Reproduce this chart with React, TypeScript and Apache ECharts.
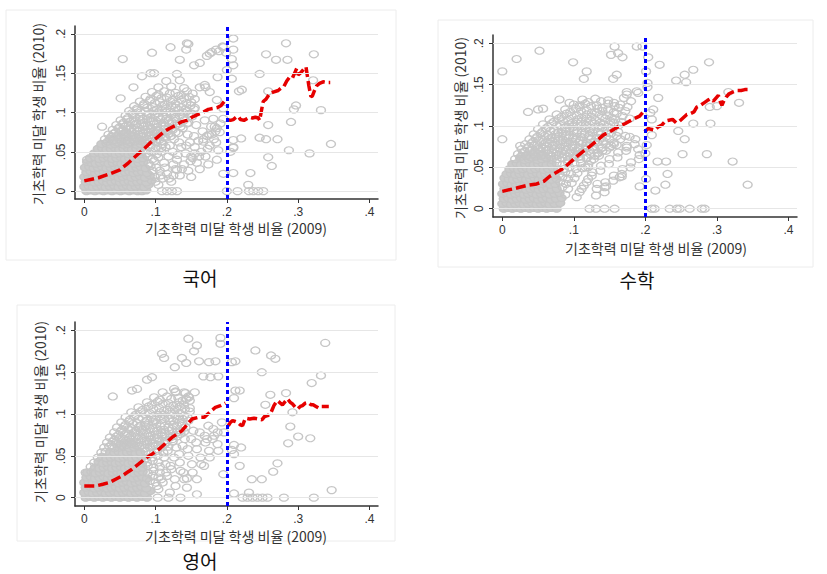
import React, { useEffect, useRef } from "react";
import * as echarts from "echarts";

// ---------- texts & ticks ----------
const subjects = ["국어", "수학", "영어"];
const xTitle = "기초학력 미달 학생 비율 (2009)";
const yTitle = "기초학력 미달 학생 비율 (2010)";
const xTicks = [0, 0.1, 0.2, 0.3, 0.4];
const yTicks = [0, 0.05, 0.1, 0.15, 0.2];
const cutoff = 0.2;

// ---------- data (per-mille: [share 2009, share 2010]) ----------
// dense, overlapping schools (drawn as a solid grey mass)
const koreanCore = [
  [3,0],[9,1],[15,0],[21,1],[27,0],[33,1],[39,0],[45,1],[51,0],[57,1],[63,0],[69,1],[75,0],[81,0],[87,1],
  [0,6],[6,7],[12,5],[18,6],[24,7],[30,5],[36,6],[42,7],[48,5],[54,6],[60,7],[66,5],[72,6],[78,7],[84,5],[90,8],
  [2,12],[8,13],[14,11],[20,12],[26,13],[32,11],[38,12],[44,13],[50,11],[56,12],[62,13],[68,11],[74,12],[80,13],[87,11],[94,14],
  [0,18],[6,19],[12,17],[18,18],[24,19],[30,17],[36,18],[42,19],[48,17],[54,18],[60,19],[66,17],[72,18],[78,19],[85,17],[92,20],
  [3,24],[9,25],[15,23],[21,24],[27,25],[33,23],[39,24],[45,25],[51,23],[57,24],[63,25],[69,23],[75,24],[81,25],[88,23],
  [1,30],[7,31],[13,29],[19,30],[25,31],[31,29],[37,30],[43,31],[49,29],[55,30],[61,31],[67,29],[73,30],[79,31],[86,29],
  [4,37],[10,36],[16,35],[22,36],[28,37],[34,35],[40,36],[46,37],[52,35],[58,36],[64,37],[70,35],[76,36],[83,37],
  [8,42],[15,43],[21,41],[27,42],[33,43],[39,41],[45,42],[51,43],[57,41],[63,42],[69,43],[75,41],[82,42],
  [14,48],[20,49],[26,47],[32,48],[38,49],[44,47],[50,48],[56,49],[62,47],[68,48],[74,49],[80,47],
  [19,54],[25,55],[31,53],[37,54],[43,55],[49,53],[55,54],[61,55],[67,53],[73,54],[79,55],
  [24,60],[31,61],[37,59],[43,60],[49,61],[55,59],[61,60],[67,61],[73,59],[79,60],
  [36,67],[42,65],[49,66],[55,67],[61,65],[68,66],[74,67],
  [48,71],[55,72],[62,73],[69,71]
];
// individually visible schools
const koreanSpread = [
  [99,18],[96,26],[93,32],[101,30],[90,35],[98,38],[89,44],[96,41],[104,43],[87,48],[94,50],[102,47],
  [86,53],[93,56],[100,54],[108,55],[86,61],[93,59],[101,62],[110,60],
  [29,66],[81,65],[88,66],[96,67],[105,65],[114,68],
  [34,72],[41,73],[76,72],[83,73],[91,71],[99,74],[108,72],[118,73],
  [40,78],[48,79],[55,77],[63,78],[70,79],[78,77],[86,78],[94,79],[103,77],[113,79],[124,78],
  [45,84],[54,85],[62,83],[71,84],[80,85],[89,83],[98,85],[108,84],[119,86],[130,84],
  [51,90],[60,91],[69,89],[78,90],[88,91],[97,89],[107,91],[118,90],[128,92],[140,90],
  [58,96],[68,97],[78,95],[88,96],[99,97],[110,95],[122,97],[134,96],[146,98],
  [63,102],[74,103],[86,101],[97,102],[109,103],[121,101],[133,103],[144,102],[154,104],
  [70,108],[83,109],[96,107],[109,108],[122,109],[136,107],[149,109],
  [78,114],[92,115],[106,113],[121,114],[136,116],[150,113],
  [86,120],[101,121],[116,119],[132,121],[147,120],
  [95,126],[112,127],[128,125],[144,127],
  [104,132],[122,133],[140,131],[115,140],[134,141],
  [104,8],[110,16],[116,22],[122,12],[128,28],[134,20],[140,34],[146,26],[152,42],[158,36],[164,50],[170,44],
  [176,58],[182,66],[188,52],[112,36],[118,44],[124,50],[130,40],[136,56],[142,48],[148,62],[154,70],[160,64],
  [166,76],[172,70],[178,82],[184,76],[120,58],[126,66],[132,74],[138,80],[144,86],[106,26],[150,18],[162,28],
  [174,34],[186,40],
  [209,194],[209,180],[207,168],[209,160],[207,143],[200,154],[199,176],[194,184],[283,188],[255,174],[269,167],
  [285,167],[322,174],[246,149],[221,129],[217,127],[258,127],[321,141],[297,109],[294,104],[332,103],[290,88],
  [258,84],[220,67],[209,65],[246,68],[255,66],[271,66],[287,52],[316,48],[346,60],[209,56],[205,50],[258,43],
  [263,32],[233,23],[209,23],[230,8],[200,0],[215,0],[231,0],[237,0],[244,0],[251,0],[190,75],[186,80],[209,55],
  [54,168],[95,176],[146,187],[143,180],[121,183],[134,167],[81,146],[98,150],[93,150],[69,132],[51,118],[25,82],
  [4,40],[179,177],[185,180],[195,183],[172,172],[162,163],[154,160],[130,149],[169,135],[176,126],[186,116],
  [195,105],[183,82],[195,92],[175,72],[167,63],[155,48],[150,44],[130,27],[125,20],[109,0],[116,0],[123,0],
  [130,0],[195,22],[144,188],[176,175],[189,178],[187,145],[162,132],[170,132]
];
const koreanMid = [
  [33,63],[40,64],[46,62],[52,63],[58,64],[64,62],[71,63],[78,64],[85,62],[92,63],[100,64],[108,63],
  [38,69],[45,70],[52,68],[59,69],[66,70],[73,68],[80,69],[87,70],[95,68],[103,70],[112,69],[122,70],
  [44,75],[52,76],[59,74],[67,75],[74,76],[82,74],[90,75],[98,76],[107,74],[117,76],[128,75],
  [49,81],[58,82],[66,80],[75,81],[84,82],[93,80],[102,81],[112,82],[123,80],[135,82],
  [55,87],[64,88],[73,86],[83,87],[93,88],[102,86],[112,87],[123,88],[134,86],[146,87],
  [61,93],[72,94],[82,92],[93,93],[104,94],[115,92],[127,94],[139,93],[151,95],
  [67,99],[79,100],[91,98],[103,99],[115,100],[127,98],[139,100],[150,99],
  [74,105],[88,106],[102,104],[115,105],[128,106],[142,104],[155,106],
  [84,111],[99,112],[113,110],[128,111],[143,112],
  [93,117],[108,118],[124,116],[140,118],[155,117],
  [104,123],[120,124],[136,122],[152,124],
  [100,12],[107,20],[113,30],[119,16],[125,34],[131,46],[137,28],[143,58],[149,38],[155,56],[161,44],[167,66],
  [173,54],[179,72],[185,62],[191,86],[108,50],[114,56],[121,70],[133,62],[145,72],[157,84],[169,90],[181,92]
];
const koreanFitBelow = [
  [0,13],[20,17],[36,22],[50,27],[62,36],[74,46],[84,54],[92,61],[102,68],[111,75],[120,80],[127,83],[136,88],
  [144,90],[151,94],[158,97],[166,100],[174,104],[180,105],[186,106],[192,109],[198,116]
];
const koreanFitAbove = [
  [200,91],[205,90],[209,91],[213,94],[216,95],[219,91],[224,90],[228,92],[232,94],[236,93],[240,94],[244,93],
  [246,90],[248,100],[251,114],[255,117],[260,124],[265,126],[272,128],[276,131],[280,133],[284,140],[288,145],
  [292,144],[296,152],[298,156],[300,148],[303,150],[307,154],[311,158],[313,146],[315,134],[318,120],[320,121],
  [323,128],[326,134],[330,137],[335,139],[340,138],[345,138]
];

const mathCore = [
  [2,0],[8,1],[14,0],[20,1],[26,0],[32,1],[38,0],[44,1],[50,0],[56,1],[62,0],[68,1],[76,0],
  [0,6],[6,7],[12,5],[18,6],[24,7],[30,5],[36,6],[42,7],[48,5],[54,6],[60,7],[66,5],[73,6],[81,7],
  [2,12],[8,13],[14,11],[20,12],[26,13],[32,11],[38,12],[44,13],[50,11],[56,12],[62,13],[68,11],[75,12],[83,13],
  [0,18],[6,19],[12,17],[18,18],[24,19],[30,17],[36,18],[42,19],[48,17],[54,18],[60,19],[66,17],[73,18],[80,19],
  [3,24],[9,25],[15,23],[21,24],[27,25],[33,23],[39,24],[45,25],[51,23],[57,24],[63,25],[69,23],[76,24],
  [1,30],[7,31],[13,29],[19,30],[25,31],[31,29],[37,30],[43,31],[49,29],[55,30],[61,31],[67,29],[74,30],
  [3,37],[9,36],[15,35],[21,36],[27,37],[33,35],[39,36],[45,37],[51,35],[57,36],[63,37],[69,35],[76,36],
  [6,42],[12,43],[18,41],[24,42],[30,43],[36,41],[42,42],[48,43],[54,41],[60,42],[66,43],[73,41],
  [10,48],[16,49],[22,47],[28,48],[34,49],[40,47],[46,48],[52,49],[58,47],[64,48],[71,49],
  [14,54],[20,55],[26,53],[32,54],[38,55],[44,53],[50,54],[56,55],[62,53],[69,54],
  [25,61],[31,59],[37,60],[43,61],[49,59],[55,60],[62,61],
  [36,65],[43,66],[50,67],[57,65]
];
const mathSpread = [
  [88,17],[84,26],[92,24],[81,32],[89,30],[97,31],[84,38],[92,36],[101,37],[80,42],[88,44],[96,42],[105,43],
  [78,47],[86,48],[94,50],[103,48],[112,49],[76,55],[84,53],[92,56],[101,54],[110,55],[120,53],
  [18,60],[69,59],[76,60],[84,61],[92,59],[100,62],[109,60],[118,61],[128,60],
  [22,66],[29,67],[64,66],[71,67],[79,65],[87,66],[95,67],[104,65],[113,68],[123,66],[134,67],
  [27,72],[35,73],[42,71],[50,72],[57,73],[65,71],[73,72],[81,73],[89,71],[98,74],[107,72],[117,73],[127,71],[138,73],
  [32,78],[41,79],[49,77],[58,78],[66,79],[75,77],[84,78],[93,79],[102,77],[112,79],[122,78],[133,80],[145,78],
  [38,84],[47,85],[56,83],[65,84],[74,85],[84,83],[93,85],[103,84],[113,86],[124,84],[136,85],[150,84],
  [44,90],[54,91],[64,89],[74,90],[84,91],[94,89],[104,91],[115,90],[126,92],[138,90],[152,91],
  [50,96],[61,97],[72,95],[83,96],[94,97],[105,95],[116,97],[128,96],[140,98],[154,96],
  [57,102],[69,103],[81,101],[93,102],[105,103],[117,101],[129,103],[142,102],[156,104],
  [66,108],[79,109],[92,107],[105,108],[118,109],[131,107],[144,109],[158,108],
  [76,114],[90,115],[104,113],[118,114],[132,116],[146,113],[160,115],
  [88,120],[103,121],[118,119],[133,121],[148,120],[163,122],
  [100,126],[116,127],[132,125],[148,127],[165,126],[112,132],[130,133],[148,131],[170,134],
  [108,20],[114,28],[120,36],[126,44],[132,24],[138,52],[144,32],[150,60],[156,40],[162,68],[168,48],[174,76],
  [180,56],[186,84],[116,50],[124,58],[140,70],[156,78],[172,88],[190,72],
  [204,183],[220,174],[201,166],[203,152],[203,147],[243,155],[255,162],[257,153],[267,168],[289,177],[218,134],
  [211,120],[207,116],[209,108],[316,141],[331,128],[300,124],[290,123],[267,103],[291,103],[246,94],[209,89],
  [255,84],[202,77],[200,67],[252,66],[286,66],[217,57],[229,57],[322,57],[231,42],[201,36],[228,29],[214,22],
  [343,29],[209,0],[213,0],[234,0],[244,0],[248,0],[262,0],[279,0],[283,0],
  [0,166],[20,181],[52,191],[99,177],[118,166],[114,157],[157,196],[152,186],[168,183],[188,196],[160,162],
  [155,157],[174,141],[188,142],[0,84],[25,76],[36,117],[50,120],[57,121],[80,132],[94,128],[108,125],[167,39],
  [143,20],[122,0],[131,0],[143,0],[157,0],[192,27],[192,65],[174,74],[160,77],[133,30],[164,38],[145,27],
  [178,87],[178,109],[190,140],[174,138],[196,196],[162,188]
];
const mathMid = [
  [26,63],[33,64],[40,62],[47,63],[54,64],[61,62],[68,63],[75,64],[83,62],[91,63],[99,64],[108,63],[118,62],[129,64],
  [31,69],[39,70],[46,68],[54,69],[61,70],[69,68],[77,69],[85,70],[94,68],[103,70],[112,69],[122,70],[133,68],[145,70],
  [37,75],[45,76],[54,74],[62,75],[71,76],[80,74],[89,75],[98,76],[107,74],[117,76],[128,75],[140,74],[152,76],
  [43,81],[52,82],[61,80],[70,81],[79,82],[89,80],[98,81],[108,82],[118,80],[129,81],[141,82],[156,80],
  [49,87],[59,88],[69,86],[79,87],[89,88],[99,86],[110,87],[121,88],[132,86],[145,87],[160,88],
  [56,93],[67,94],[78,92],[89,93],[100,94],[111,92],[122,94],[134,93],[147,95],[162,93],
  [64,99],[76,100],[88,98],[99,99],[111,100],[123,98],[135,100],[148,99],[163,101],
  [72,105],[85,106],[98,104],[111,105],[124,106],[137,104],[151,106],[166,105],
  [83,111],[97,112],[111,110],[125,111],[139,112],[153,110],[168,112],
  [95,117],[110,118],[125,116],[140,118],[156,117],[172,118],
  [108,123],[124,124],[140,122],[157,124],[175,123],
  [120,129],[138,130],[156,128],[180,130],
  [104,14],[111,24],[118,32],[125,40],[131,16],[137,46],[143,26],[149,54],[155,34],[161,62],[167,42],[173,70],
  [179,50],[185,78],[191,60],[120,50],[135,64],[150,74],[165,84]
];
const mathFitBelow = [
  [0,21],[20,25],[34,28],[48,30],[58,33],[66,39],[76,44],[86,49],[96,57],[104,63],[114,70],[122,75],[132,82],
  [141,89],[152,94],[162,99],[172,103],[182,108],[192,112],[197,117]
];
const mathFitAbove = [
  [199,93],[204,97],[208,96],[213,95],[218,99],[223,101],[228,106],[233,107],[238,108],[243,104],[248,106],
  [253,110],[258,114],[263,115],[268,117],[272,123],[277,125],[282,128],[287,131],[291,133],[295,130],[299,134],
  [302,137],[305,129],[307,125],[310,131],[313,135],[317,139],[322,141],[328,143],[334,143],[339,144],[344,144]
];

const englishCore = [
  [2,0],[8,1],[14,0],[20,1],[26,0],[32,1],[38,0],[44,1],[50,0],[56,1],[62,0],[68,1],[74,0],[81,1],[88,0],
  [0,6],[6,7],[12,5],[18,6],[24,7],[30,5],[36,6],[42,7],[48,5],[54,6],[60,7],[66,5],[72,6],[78,7],[85,5],[93,8],
  [2,12],[8,13],[14,11],[20,12],[26,13],[32,11],[38,12],[44,13],[50,11],[56,12],[62,13],[68,11],[74,12],[80,13],[87,11],
  [0,18],[6,19],[12,17],[18,18],[24,19],[30,17],[36,18],[42,19],[48,17],[54,18],[60,19],[66,17],[72,18],[78,19],[85,17],
  [3,24],[9,25],[15,23],[21,24],[27,25],[33,23],[39,24],[45,25],[51,23],[57,24],[63,25],[69,23],[75,24],[81,25],[88,23],
  [4,30],[10,31],[16,29],[22,30],[28,31],[34,29],[40,30],[46,31],[52,29],[58,30],[64,31],[70,29],[76,30],[82,31],
  [15,36],[21,35],[27,36],[33,37],[39,35],[45,36],[51,37],[57,35],[63,36],[69,37],[75,35],[82,36],
  [20,43],[26,41],[32,42],[38,43],[44,41],[50,42],[56,43],[62,41],[68,42],[74,43],[81,41],
  [25,49],[31,47],[37,48],[43,49],[49,47],[55,48],[61,49],[67,47],[73,48],[80,49],
  [36,53],[42,54],[48,55],[54,53],[60,54],[66,55],[72,53],[79,54],
  [49,60],[56,61],[63,59],[70,60],
  [56,66],[64,67]
];
const englishSpread = [
  [92,20],[100,18],[96,26],[104,24],[89,29],[97,32],[106,30],[9,37],[89,38],[97,36],[106,37],
  [14,42],[88,42],[96,44],[104,42],[19,48],[87,47],[95,48],[103,50],[112,48],
  [24,54],[30,55],[86,55],[94,53],[102,56],[111,54],
  [28,60],[35,61],[42,59],[77,61],[84,59],[92,60],[100,62],[109,60],[118,61],
  [32,66],[40,67],[48,65],[72,65],[80,66],[88,67],[96,65],[105,68],[114,66],[124,67],
  [36,72],[45,73],[54,71],[63,72],[72,73],[81,71],[90,73],[99,72],[109,74],[120,72],[130,73],
  [42,78],[51,79],[60,77],[70,78],[79,79],[88,77],[98,79],[108,78],[119,80],[130,78],[140,79],
  [46,84],[56,85],[66,83],[76,84],[86,85],[96,83],[107,85],[118,84],[130,86],[142,84],
  [52,90],[63,91],[74,89],[85,90],[96,91],[108,89],[120,91],[133,90],[146,92],
  [58,96],[70,97],[82,95],[94,96],[106,97],[119,95],[132,97],[145,96],
  [66,102],[79,103],[92,101],[106,102],[120,103],[134,101],[148,103],
  [76,108],[90,109],[105,107],[120,108],[134,109],[148,107],
  [88,114],[103,115],[118,113],[133,114],[148,116],
  [98,120],[116,121],[132,119],[146,121],[110,126],[128,127],[142,125],
  [104,10],[110,18],[116,26],[122,34],[128,14],[134,42],[140,22],[146,50],[152,30],[158,58],[164,40],[170,66],
  [176,48],[182,74],[188,56],[114,40],[126,48],[138,62],[150,70],[162,78],[174,86],[120,6],[144,12],
  [240,176],[262,170],[268,166],[338,185],[249,150],[332,146],[319,137],[207,162],[212,163],[212,128],[218,128],
  [210,119],[261,123],[283,125],[254,111],[292,102],[289,85],[300,73],[317,71],[286,65],[210,63],[207,57],
  [210,52],[220,60],[218,38],[271,41],[265,31],[235,22],[249,22],[347,9],[210,5],[231,6],[222,0],[229,0],
  [236,0],[243,0],[250,0],[257,0],[280,0],[322,0],
  [146,190],[158,182],[154,175],[191,191],[191,184],[109,172],[112,167],[137,167],[127,156],[143,161],[161,163],
  [175,162],[184,163],[177,144],[188,145],[167,145],[95,144],[88,141],[67,128],[74,130],[40,121],[126,130],
  [128,126],[140,126],[147,120],[143,118],[155,126],[187,78],[196,78],[172,70],[180,70],[168,38],[158,22],
  [158,4],[118,0],[103,0],[135,0],[2,30],[195,28],[135,32],[144,23]
];
const englishMid = [
  [38,63],[45,64],[52,62],[59,63],[66,64],[74,62],[81,63],[88,64],[96,62],[104,63],[113,64],
  [42,69],[50,70],[58,68],[67,69],[76,70],[85,68],[94,69],[103,70],[113,68],[124,70],
  [48,75],[57,76],[66,74],[75,75],[84,76],[93,74],[103,75],[113,76],[124,74],[135,76],
  [53,81],[62,82],[72,80],[82,81],[92,82],[102,80],[112,81],[123,82],[135,80],
  [58,87],[68,88],[79,86],[90,87],[101,88],[113,86],[125,87],[138,88],
  [64,93],[76,94],[88,92],[100,93],[112,94],[125,92],[138,94],
  [72,99],[85,100],[98,98],[112,99],[126,100],[140,98],
  [82,105],[97,106],[112,104],[127,105],[141,106],
  [95,111],[110,112],[125,110],[140,111],
  [106,117],[122,118],[138,116],
  [102,14],[108,22],[115,30],[121,38],[127,22],[133,52],[139,30],[145,58],[151,40],[157,66],[163,48],[169,74],
  [175,56],[181,82],[187,64],[193,90],[117,56],[129,60],[141,70],[153,80]
];
const englishFitBelow = [
  [0,14],[16,14],[26,16],[35,18],[44,22],[53,26],[60,30],[67,34],[76,40],[86,47],[95,52],[105,58],[114,65],
  [123,72],[130,76],[137,80],[144,87],[151,94],[160,96],[168,96],[176,102],[184,108],[191,110],[198,113]
];
const englishFitAbove = [
  [202,86],[205,90],[208,92],[212,91],[215,90],[219,87],[222,86],[226,95],[232,94],[238,95],[244,94],[249,93],
  [253,97],[257,98],[261,100],[264,106],[266,110],[269,114],[271,116],[275,113],[278,111],[282,115],[285,118],
  [289,114],[292,112],[296,108],[299,106],[303,109],[306,110],[310,113],[314,114],[318,111],[321,111],[325,109],
  [329,107],[333,109],[338,109],[343,109]
];

// ---------- layout ----------
const layout = [
  { grid: { left: 75, top: 26, width: 303, height: 173 }, xT: [236, 228], yT: [38, 114], sub: [200, 277], frame: [6, 10, 390, 250] },
  { grid: { left: 493, top: 35, width: 304, height: 182 }, xT: [656, 248], yT: [460, 128], sub: [637, 279], frame: [438, 20, 375, 247] },
  { grid: { left: 75, top: 322, width: 303, height: 184 }, xT: [236, 536], yT: [40, 412], sub: [200, 560], frame: [17, 305, 378, 236] },
];

const panelData = [
  { core: koreanCore, spread: [...koreanSpread, ...koreanMid], below: koreanFitBelow, above: koreanFitAbove },
  { core: mathCore, spread: [...mathSpread, ...mathMid], below: mathFitBelow, above: mathFitAbove },
  { core: englishCore, spread: [...englishSpread, ...englishMid], below: englishFitBelow, above: englishFitAbove },
];

const toShare = (arr: number[][]) => arr.map(([x, y]) => [x / 1000, y / 1000]);
const fmt = (v: number) => (v === 0 ? "0" : String(v).replace(/^0\./, "."));
const latin = 'Arial, "Liberation Sans", sans-serif';
const kor = '"Noto Sans CJK KR", "Noto Sans", sans-serif';
const grey = "#c6c6c6";

function buildOption() {
  const grid = layout.map((l) => ({ ...l.grid, containLabel: false }));
  const xAxis = layout.map((_, i) => ({
    type: "value", gridIndex: i, min: -0.013, max: 0.412,
    axisLine: { show: true, onZero: false, lineStyle: { color: "#333", width: 1.5 } },
    axisTick: { show: true, customValues: xTicks, length: 4, lineStyle: { color: "#333", width: 1 } },
    axisLabel: { customValues: xTicks, formatter: fmt, margin: 7, fontSize: 12, color: "#333", fontFamily: latin },
    splitLine: { show: false },
  }));
  const yAxis = layout.map((_, i) => ({
    type: "value", gridIndex: i, min: -0.01, max: 0.21,
    axisLine: { show: true, onZero: false, lineStyle: { color: "#333", width: 1.5 } },
    axisTick: { show: true, customValues: yTicks, length: 4, lineStyle: { color: "#333", width: 1 } },
    axisLabel: { customValues: yTicks, formatter: fmt, rotate: 90, margin: 8, fontSize: 12, color: "#333", fontFamily: latin },
    splitLine: { show: false },
  }));
  const series: any[] = [];
  panelData.forEach((p, i) => {
    series.push({
      type: "line", xAxisIndex: i, yAxisIndex: i, data: [], z: 1, silent: true,
      markLine: { silent: true, symbol: ["none", "none"], label: { show: false }, animation: false,
        lineStyle: { color: "#e6e6e6", width: 1, type: "solid" }, emphasis: { disabled: true },
        data: yTicks.map((v) => ({ yAxis: v })) },
    });
    series.push({
      type: "scatter", xAxisIndex: i, yAxisIndex: i, z: 2, silent: true,
      data: toShare(p.core), symbol: "circle", symbolSize: [9, 7],
      itemStyle: { color: "#cbcbcb", borderColor: grey, borderWidth: 1.3, opacity: 1 },
    });
    series.push({
      type: "scatter", xAxisIndex: i, yAxisIndex: i, z: 3, silent: true,
      data: toShare(p.spread), symbol: "circle", symbolSize: [9, 7],
      itemStyle: { color: "rgba(255,255,255,0)", borderColor: grey, borderWidth: 1.3, opacity: 1 },
    });
    series.push({
      type: "line", xAxisIndex: i, yAxisIndex: i, data: [], z: 5, silent: true,
      markLine: { silent: true, symbol: ["none", "none"], label: { show: false }, animation: false,
        lineStyle: { color: "#0000ff", width: 3, type: [4, 3] }, emphasis: { disabled: true },
        data: [{ xAxis: cutoff }] },
    });
    [p.below, p.above].forEach((seg) => {
      series.push({
        type: "line", xAxisIndex: i, yAxisIndex: i, z: 4, silent: true,
        data: toShare(seg), symbol: "none", showSymbol: false,
        lineStyle: { color: "#e60000", width: 3.5, type: [10, 4], cap: "butt" },
      });
    });
  });
  const graphic: any[] = [];
  layout.forEach((l, i) => {
    graphic.push({ type: "rect", silent: true, z: -1,
      shape: { x: l.frame[0], y: l.frame[1], width: l.frame[2], height: l.frame[3] },
      style: { fill: "none", stroke: "#ececec", lineWidth: 1 } });
    graphic.push({ type: "text", x: l.xT[0], y: l.xT[1], silent: true,
      style: { text: xTitle, align: "center", verticalAlign: "middle", fontSize: 14, fill: "#333", fontFamily: kor } });
    graphic.push({ type: "text", x: l.yT[0], y: l.yT[1], rotation: Math.PI / 2, silent: true,
      style: { text: yTitle, align: "center", verticalAlign: "middle", fontSize: 14, fill: "#333", fontFamily: kor } });
    graphic.push({ type: "text", x: l.sub[0], y: l.sub[1], silent: true,
      style: { text: subjects[i], align: "center", verticalAlign: "middle", fontSize: 19, fill: "#111", fontFamily: kor } });
  });
  return { animation: false, backgroundColor: "#fff", grid, xAxis, yAxis, series, graphic };
}

export default function App() {
  const ref = useRef<HTMLDivElement>(null);
  useEffect(() => {
    const chart = echarts.init(ref.current as HTMLDivElement, null, { renderer: "svg" });
    chart.setOption(buildOption() as any);
    return () => chart.dispose();
  }, []);
  return (
    <div
      ref={ref}
      style={{ position: "fixed", left: 0, top: 0, width: 827, height: 574, background: "#fff" }}
    />
  );
}
